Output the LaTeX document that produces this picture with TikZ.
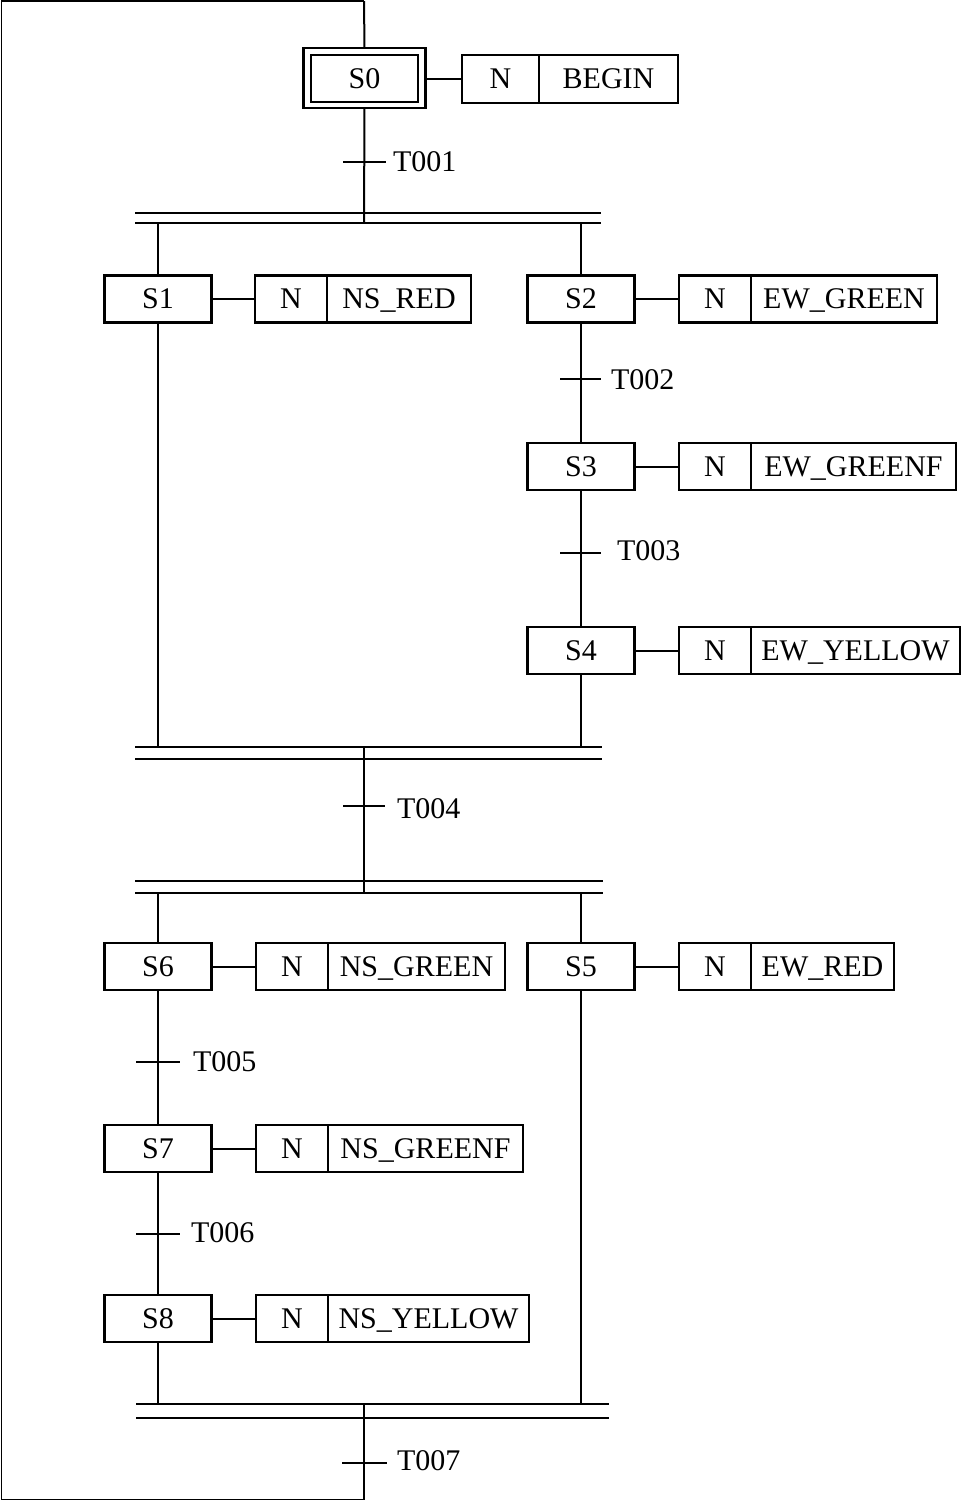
\documentclass[tikz,border=0pt]{standalone}
\usepackage{fontspec}
\setmainfont{Liberation Serif}
\begin{document}
\begin{tikzpicture}[x=0.5pt,y=-0.5pt,
  every node/.style={font=\fontsize{15}{18}\selectfont, inner sep=0pt, outer sep=0pt, text height=9.9pt, text depth=0pt},
  box/.style={draw, line width=1.4pt, minimum height=47*0.5pt},
  bw/.style={minimum width=#1*0.5pt},
  conn/.style={line width=1pt},
  bar/.style={line width=0.9pt},
  tickline/.style={line width=1pt},
  loopline/.style={line width=0.75pt},
  lbl/.style={anchor=west}
]
\useasboundingbox (0,0) rectangle (962,1501);

% ---- steps ----
\node[box,bw=107] (S0) at (364.5,78.5) {S0};
\node[box,bw=122,minimum height=60*0.5pt] (S0f) at (364.5,78) {};
\node[box,bw=107] (S1) at (158,299) {S1};
\node[box,bw=107] (S2) at (581,299) {S2};
\node[box,bw=107] (S3) at (581,466.5) {S3};
\node[box,bw=107] (S4) at (581,650.5) {S4};
\node[box,bw=107] (S6) at (158,966.5) {S6};
\node[box,bw=107] (S5) at (581,966.5) {S5};
\node[box,bw=107] (S7) at (158,1148.5) {S7};
\node[box,bw=107] (S8) at (158,1318.5) {S8};

% ---- actions ----
\node[box,bw=77,anchor=west,minimum height=48*0.5pt] (N0) at (462,79) {N};
\node[box,bw=139,anchor=west,minimum height=48*0.5pt] (A0) at (N0.east) {BEGIN};
\node[box,bw=72,anchor=west] (N1) at (255,299) {N};
\node[box,bw=144,anchor=west] (A1) at (N1.east) {NS\_RED};
\node[box,bw=72,anchor=west] (N2) at (679,299) {N};
\node[box,bw=186,anchor=west] (A2) at (N2.east) {EW\_GREEN};
\node[box,bw=72,anchor=west] (N3) at (679,466.5) {N};
\node[box,bw=205,anchor=west] (A3) at (N3.east) {EW\_GREENF};
\node[box,bw=72,anchor=west] (N4) at (679,650.5) {N};
\node[box,bw=209,anchor=west] (A4) at (N4.east) {EW\_YELLOW};
\node[box,bw=72,anchor=west] (N6) at (256,966.5) {N};
\node[box,bw=177,anchor=west] (A6) at (N6.east) {NS\_GREEN};
\node[box,bw=72,anchor=west] (N5) at (679,966.5) {N};
\node[box,bw=143,anchor=west] (A5) at (N5.east) {EW\_RED};
\node[box,bw=72,anchor=west] (N7) at (256,1148.5) {N};
\node[box,bw=195,anchor=west] (A7) at (N7.east) {NS\_GREENF};
\node[box,bw=72,anchor=west] (N8) at (256,1318.5) {N};
\node[box,bw=201,anchor=west] (A8) at (N8.east) {NS\_YELLOW};

% ---- step-action links ----
\draw[conn] (S0f.east |- N0.west) -- (N0.west);
\foreach \s/\n in {S1/N1,S2/N2,S3/N3,S4/N4,S6/N6,S5/N5,S7/N7,S8/N8}
  \draw[conn] (\s.east) -- (\n.west);

% ---- bars ----
\draw[bar] (135,213) -- (601,213);
\draw[bar] (135,223) -- (601,223);
\draw[bar] (135,747) -- (602,747);
\draw[bar] (135,759) -- (602,759);
\draw[bar] (135,881) -- (603,881);
\draw[bar] (135,893) -- (603,893);
\draw[bar] (136,1404) -- (609,1404);
\draw[bar] (136,1418) -- (609,1418);

% ---- bar coordinates ----
\coordinate (b1c) at (364,223);
\coordinate (b1l) at (158,223);
\coordinate (b1r) at (581,223);
\coordinate (b2l) at (158,747);
\coordinate (b2r) at (581,747);
\coordinate (b2c) at (364,747);
\coordinate (b3c) at (364,893);
\coordinate (b3l) at (158,893);
\coordinate (b3r) at (581,893);
\coordinate (b4l) at (158,1404);
\coordinate (b4r) at (581,1404);
\coordinate (b4c) at (364,1404);
\coordinate (bot) at (364,1499.5);
\coordinate (top) at (364,1);
\coordinate (cbl) at (1.5,1499.5);
\coordinate (ctl) at (1.5,1);

% ---- vertical connectors ----
\draw[conn] (S0f.south) -- (b1c);
\draw[conn] (b1l) -- (S1.north);
\draw[conn] (b1r) -- (S2.north);
\draw[conn] (S1.south) -- (b2l);
\draw[conn] (S2.south) -- (S3.north);
\draw[conn] (S3.south) -- (S4.north);
\draw[conn] (S4.south) -- (b2r);
\draw[conn] (b2c) -- (b3c);
\draw[conn] (b3l) -- (S6.north);
\draw[conn] (b3r) -- (S5.north);
\draw[conn] (S6.south) -- (S7.north);
\draw[conn] (S7.south) -- (S8.north);
\draw[conn] (S8.south) -- (b4l);
\draw[conn] (S5.south) -- (b4r);
\draw[conn] (b4c) -- (bot);
\draw[conn] (top) -- (S0f.north);
\draw[loopline] (bot) -- (cbl) -- (ctl) -- (top);

% ---- transitions ----
\draw[tickline] (343,162) -- (386,162);
\node[lbl] (T1) at (393,162) {T001};
\draw[tickline] (560,379) -- (601,379);
\node[lbl] (T2) at (611,380) {T002};
\draw[tickline] (560,553) -- (601,553);
\node[lbl] (T3) at (617,551) {T003};
\draw[tickline] (343,806) -- (385,806);
\node[lbl] (T4) at (397,809) {T004};
\draw[tickline] (136,1062) -- (180,1062);
\node[lbl] (T5) at (193,1062) {T005};
\draw[tickline] (136,1234) -- (180,1234);
\node[lbl] (T6) at (191,1233) {T006};
\draw[tickline] (342,1463) -- (387,1463);
\node[lbl] (T7) at (397,1461) {T007};
\end{tikzpicture}
\end{document}
